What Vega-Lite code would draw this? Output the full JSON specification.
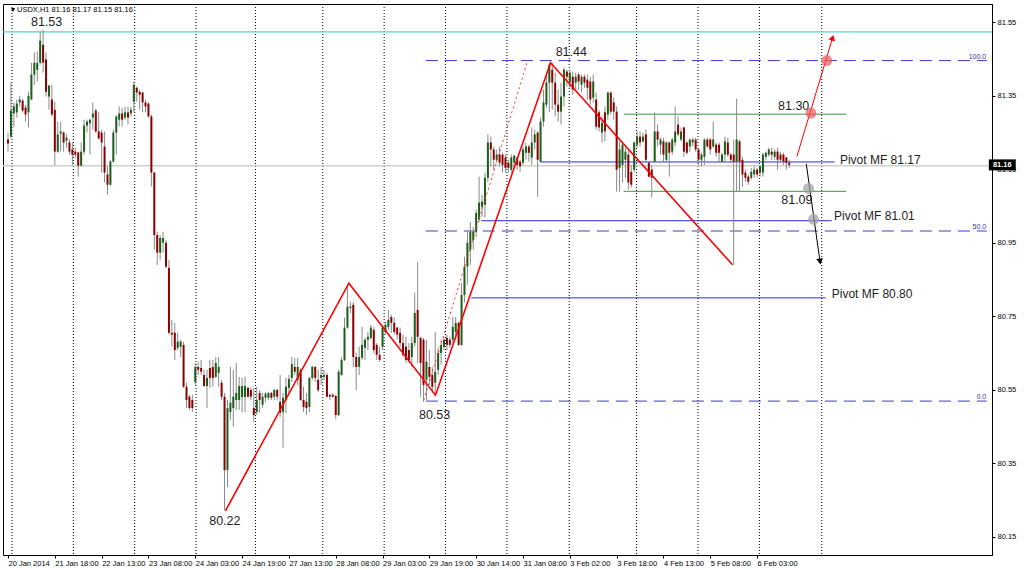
{
"$schema": "https://vega.github.io/schema/vega-lite/v6.json",
"width": 989, "height": 551,
"autosize": {"type": "none"},
"padding": {"left": 3, "top": 4, "right": 32, "bottom": 15},
"background": "#ffffff",
"config": {"view": {"stroke": "#000000", "strokeWidth": 1}},
"datasets": {
"sep": [{"x":1.35},{"x":22.33},{"x":43.3},{"x":64.28},{"x":84.57},{"x":107.58},{"x":128.55},{"x":149.53},{"x":170.5},{"x":191.8},{"x":214.8},{"x":235.8},{"x":256.8},{"x":278.1}],
"bars": [
{"i":0,"o":81.231,"h":81.25,"l":81.198,"c":81.22},
{"i":1,"o":81.239,"h":81.386,"l":81.236,"c":81.31},
{"i":2,"o":81.302,"h":81.332,"l":81.266,"c":81.321},
{"i":3,"o":81.305,"h":81.34,"l":81.291,"c":81.329},
{"i":4,"o":81.332,"h":81.35,"l":81.321,"c":81.34},
{"i":5,"o":81.337,"h":81.342,"l":81.305,"c":81.31},
{"i":6,"o":81.318,"h":81.326,"l":81.28,"c":81.299},
{"i":7,"o":81.305,"h":81.361,"l":81.264,"c":81.35},
{"i":8,"o":81.34,"h":81.44,"l":81.338,"c":81.408},
{"i":9,"o":81.408,"h":81.468,"l":81.38,"c":81.44},
{"i":10,"o":81.421,"h":81.47,"l":81.389,"c":81.44},
{"i":11,"o":81.44,"h":81.525,"l":81.435,"c":81.5},
{"i":12,"o":81.489,"h":81.53,"l":81.413,"c":81.44},
{"i":13,"o":81.449,"h":81.468,"l":81.348,"c":81.361},
{"i":14,"o":81.348,"h":81.38,"l":81.312,"c":81.378},
{"i":15,"o":81.34,"h":81.38,"l":81.294,"c":81.299},
{"i":16,"o":81.312,"h":81.334,"l":81.162,"c":81.198},
{"i":17,"o":81.198,"h":81.28,"l":81.195,"c":81.245},
{"i":18,"o":81.247,"h":81.28,"l":81.198,"c":81.253},
{"i":19,"o":81.25,"h":81.253,"l":81.198,"c":81.223},
{"i":20,"o":81.228,"h":81.245,"l":81.209,"c":81.236},
{"i":21,"o":81.223,"h":81.231,"l":81.19,"c":81.198},
{"i":22,"o":81.204,"h":81.223,"l":81.162,"c":81.19},
{"i":23,"o":81.198,"h":81.209,"l":81.182,"c":81.19},
{"i":24,"o":81.196,"h":81.198,"l":81.13,"c":81.16},
{"i":25,"o":81.16,"h":81.223,"l":81.158,"c":81.198},
{"i":26,"o":81.198,"h":81.285,"l":81.19,"c":81.269},
{"i":27,"o":81.269,"h":81.285,"l":81.25,"c":81.28},
{"i":28,"o":81.275,"h":81.288,"l":81.19,"c":81.285},
{"i":29,"o":81.291,"h":81.332,"l":81.258,"c":81.302},
{"i":30,"o":81.31,"h":81.315,"l":81.25,"c":81.253},
{"i":31,"o":81.253,"h":81.305,"l":81.231,"c":81.234},
{"i":32,"o":81.25,"h":81.258,"l":81.141,"c":81.223},
{"i":33,"o":81.212,"h":81.253,"l":81.114,"c":81.141},
{"i":34,"o":81.136,"h":81.158,"l":81.081,"c":81.108},
{"i":35,"o":81.108,"h":81.176,"l":81.105,"c":81.171},
{"i":36,"o":81.171,"h":81.258,"l":81.168,"c":81.25},
{"i":37,"o":81.25,"h":81.297,"l":81.19,"c":81.294},
{"i":38,"o":81.285,"h":81.321,"l":81.266,"c":81.302},
{"i":39,"o":81.302,"h":81.318,"l":81.266,"c":81.285},
{"i":40,"o":81.291,"h":81.321,"l":81.285,"c":81.305},
{"i":41,"o":81.305,"h":81.321,"l":81.272,"c":81.291},
{"i":42,"o":81.302,"h":81.321,"l":81.294,"c":81.312},
{"i":43,"o":81.334,"h":81.389,"l":81.305,"c":81.38},
{"i":44,"o":81.372,"h":81.375,"l":81.334,"c":81.359},
{"i":45,"o":81.361,"h":81.367,"l":81.312,"c":81.353},
{"i":46,"o":81.359,"h":81.361,"l":81.305,"c":81.332},
{"i":47,"o":81.332,"h":81.34,"l":81.305,"c":81.321},
{"i":48,"o":81.329,"h":81.332,"l":81.291,"c":81.294},
{"i":49,"o":81.294,"h":81.299,"l":81.103,"c":81.141},
{"i":50,"o":81.141,"h":81.143,"l":80.931,"c":80.971},
{"i":51,"o":80.971,"h":80.98,"l":80.89,"c":80.923},
{"i":52,"o":80.923,"h":80.971,"l":80.904,"c":80.963},
{"i":53,"o":80.95,"h":80.98,"l":80.923,"c":80.963},
{"i":54,"o":80.95,"h":80.958,"l":80.88,"c":80.885},
{"i":55,"o":80.882,"h":80.904,"l":80.7,"c":80.705},
{"i":56,"o":80.705,"h":80.74,"l":80.667,"c":80.7},
{"i":57,"o":80.705,"h":80.732,"l":80.631,"c":80.658},
{"i":58,"o":80.664,"h":80.705,"l":80.658,"c":80.681},
{"i":59,"o":80.667,"h":80.686,"l":80.639,"c":80.681},
{"i":60,"o":80.672,"h":80.681,"l":80.555,"c":80.558},
{"i":61,"o":80.558,"h":80.569,"l":80.5,"c":80.522},
{"i":62,"o":80.531,"h":80.536,"l":80.495,"c":80.5},
{"i":63,"o":80.522,"h":80.536,"l":80.489,"c":80.5},
{"i":64,"o":80.571,"h":80.623,"l":80.563,"c":80.612},
{"i":65,"o":80.612,"h":80.626,"l":80.59,"c":80.604},
{"i":66,"o":80.609,"h":80.631,"l":80.59,"c":80.599},
{"i":67,"o":80.59,"h":80.604,"l":80.558,"c":80.56},
{"i":68,"o":80.56,"h":80.604,"l":80.5,"c":80.582},
{"i":69,"o":80.609,"h":80.631,"l":80.555,"c":80.582},
{"i":70,"o":80.612,"h":80.631,"l":80.558,"c":80.582},
{"i":71,"o":80.585,"h":80.639,"l":80.582,"c":80.623},
{"i":72,"o":80.596,"h":80.639,"l":80.558,"c":80.612},
{"i":73,"o":80.569,"h":80.577,"l":80.522,"c":80.531},
{"i":74,"o":80.531,"h":80.541,"l":80.222,"c":80.331},
{"i":75,"o":80.331,"h":80.522,"l":80.285,"c":80.5},
{"i":76,"o":80.489,"h":80.612,"l":80.468,"c":80.514},
{"i":77,"o":80.5,"h":80.604,"l":80.449,"c":80.531},
{"i":78,"o":80.522,"h":80.623,"l":80.495,"c":80.541},
{"i":79,"o":80.522,"h":80.585,"l":80.495,"c":80.56},
{"i":80,"o":80.53,"h":80.582,"l":80.489,"c":80.56},
{"i":81,"o":80.53,"h":80.585,"l":80.489,"c":80.56},
{"i":82,"o":80.555,"h":80.558,"l":80.528,"c":80.531},
{"i":83,"o":80.549,"h":80.555,"l":80.522,"c":80.531},
{"i":84,"o":80.5,"h":80.555,"l":80.462,"c":80.481},
{"i":85,"o":80.489,"h":80.558,"l":80.481,"c":80.522},
{"i":86,"o":80.541,"h":80.549,"l":80.487,"c":80.522},
{"i":87,"o":80.509,"h":80.541,"l":80.5,"c":80.531},
{"i":88,"o":80.528,"h":80.544,"l":80.517,"c":80.539},
{"i":89,"o":80.528,"h":80.544,"l":80.522,"c":80.541},
{"i":90,"o":80.541,"h":80.544,"l":80.522,"c":80.528},
{"i":91,"o":80.531,"h":80.552,"l":80.522,"c":80.549},
{"i":92,"o":80.549,"h":80.552,"l":80.522,"c":80.531},
{"i":93,"o":80.517,"h":80.59,"l":80.476,"c":80.487},
{"i":94,"o":80.489,"h":80.541,"l":80.392,"c":80.528},
{"i":95,"o":80.522,"h":80.582,"l":80.487,"c":80.558},
{"i":96,"o":80.555,"h":80.59,"l":80.541,"c":80.579},
{"i":97,"o":80.582,"h":80.639,"l":80.571,"c":80.62},
{"i":98,"o":80.612,"h":80.637,"l":80.59,"c":80.599},
{"i":99,"o":80.577,"h":80.637,"l":80.563,"c":80.612},
{"i":100,"o":80.604,"h":80.609,"l":80.519,"c":80.522},
{"i":101,"o":80.522,"h":80.558,"l":80.489,"c":80.503},
{"i":102,"o":80.517,"h":80.541,"l":80.481,"c":80.5},
{"i":103,"o":80.503,"h":80.585,"l":80.489,"c":80.582},
{"i":104,"o":80.582,"h":80.615,"l":80.577,"c":80.612},
{"i":105,"o":80.612,"h":80.615,"l":80.571,"c":80.582},
{"i":106,"o":80.577,"h":80.604,"l":80.544,"c":80.549},
{"i":107,"o":80.582,"h":80.612,"l":80.563,"c":80.59},
{"i":108,"o":80.585,"h":80.604,"l":80.577,"c":80.59},
{"i":109,"o":80.59,"h":80.596,"l":80.528,"c":80.531},
{"i":110,"o":80.536,"h":80.539,"l":80.522,"c":80.531},
{"i":111,"o":80.536,"h":80.541,"l":80.528,"c":80.531},
{"i":112,"o":80.533,"h":80.536,"l":80.47,"c":80.481},
{"i":113,"o":80.481,"h":80.604,"l":80.478,"c":80.599},
{"i":114,"o":80.59,"h":80.639,"l":80.588,"c":80.631},
{"i":115,"o":80.631,"h":80.746,"l":80.628,"c":80.719},
{"i":116,"o":80.719,"h":80.838,"l":80.716,"c":80.776},
{"i":117,"o":80.776,"h":80.789,"l":80.759,"c":80.773},
{"i":118,"o":80.781,"h":80.789,"l":80.612,"c":80.639},
{"i":119,"o":80.639,"h":80.65,"l":80.549,"c":80.612},
{"i":120,"o":80.612,"h":80.667,"l":80.59,"c":80.639},
{"i":121,"o":80.637,"h":80.721,"l":80.631,"c":80.672},
{"i":122,"o":80.664,"h":80.691,"l":80.631,"c":80.686},
{"i":123,"o":80.686,"h":80.707,"l":80.658,"c":80.694},
{"i":124,"o":80.691,"h":80.726,"l":80.686,"c":80.719},
{"i":125,"o":80.713,"h":80.721,"l":80.65,"c":80.658},
{"i":126,"o":80.672,"h":80.677,"l":80.631,"c":80.645},
{"i":127,"o":80.645,"h":80.667,"l":80.626,"c":80.631},
{"i":128,"o":80.667,"h":80.721,"l":80.658,"c":80.719},
{"i":129,"o":80.707,"h":80.735,"l":80.7,"c":80.726},
{"i":130,"o":80.721,"h":80.767,"l":80.713,"c":80.74},
{"i":131,"o":80.748,"h":80.754,"l":80.705,"c":80.732},
{"i":132,"o":80.732,"h":80.746,"l":80.7,"c":80.707},
{"i":133,"o":80.719,"h":80.721,"l":80.686,"c":80.7},
{"i":134,"o":80.705,"h":80.719,"l":80.667,"c":80.677},
{"i":135,"o":80.677,"h":80.7,"l":80.639,"c":80.645},
{"i":136,"o":80.667,"h":80.694,"l":80.623,"c":80.631},
{"i":137,"o":80.658,"h":80.677,"l":80.623,"c":80.631},
{"i":138,"o":80.639,"h":80.694,"l":80.612,"c":80.677},
{"i":139,"o":80.677,"h":80.814,"l":80.667,"c":80.759},
{"i":140,"o":80.767,"h":80.898,"l":80.623,"c":80.694},
{"i":141,"o":80.691,"h":80.694,"l":80.531,"c":80.623},
{"i":142,"o":80.686,"h":80.691,"l":80.517,"c":80.563},
{"i":143,"o":80.577,"h":80.686,"l":80.522,"c":80.626},
{"i":144,"o":80.612,"h":80.658,"l":80.563,"c":80.585},
{"i":145,"o":80.59,"h":80.612,"l":80.541,"c":80.558},
{"i":146,"o":80.569,"h":80.707,"l":80.535,"c":80.599},
{"i":147,"o":80.604,"h":80.664,"l":80.59,"c":80.65},
{"i":148,"o":80.65,"h":80.686,"l":80.618,"c":80.672},
{"i":149,"o":80.667,"h":80.694,"l":80.658,"c":80.686},
{"i":150,"o":80.691,"h":80.7,"l":80.658,"c":80.672},
{"i":151,"o":80.686,"h":80.694,"l":80.664,"c":80.672},
{"i":152,"o":80.686,"h":80.748,"l":80.677,"c":80.721},
{"i":153,"o":80.707,"h":80.748,"l":80.686,"c":80.732},
{"i":154,"o":80.732,"h":80.735,"l":80.669,"c":80.672},
{"i":155,"o":80.672,"h":80.841,"l":80.669,"c":80.808},
{"i":156,"o":80.808,"h":80.912,"l":80.787,"c":80.885},
{"i":157,"o":80.885,"h":80.98,"l":80.836,"c":80.95},
{"i":158,"o":80.931,"h":81.007,"l":80.89,"c":80.98},
{"i":159,"o":80.958,"h":80.993,"l":80.931,"c":80.98},
{"i":160,"o":80.98,"h":81.04,"l":80.966,"c":81.031},
{"i":161,"o":81.013,"h":81.13,"l":81.007,"c":81.059},
{"i":162,"o":81.048,"h":81.081,"l":81.021,"c":81.062},
{"i":163,"o":81.053,"h":81.141,"l":81.018,"c":81.127},
{"i":164,"o":81.127,"h":81.245,"l":81.116,"c":81.223},
{"i":165,"o":81.223,"h":81.239,"l":81.158,"c":81.204},
{"i":166,"o":81.204,"h":81.212,"l":81.149,"c":81.176},
{"i":167,"o":81.176,"h":81.204,"l":81.168,"c":81.19},
{"i":168,"o":81.19,"h":81.212,"l":81.158,"c":81.168},
{"i":169,"o":81.19,"h":81.195,"l":81.141,"c":81.162},
{"i":170,"o":81.182,"h":81.19,"l":81.141,"c":81.154},
{"i":171,"o":81.168,"h":81.176,"l":81.141,"c":81.154},
{"i":172,"o":81.149,"h":81.19,"l":81.141,"c":81.182},
{"i":173,"o":81.168,"h":81.19,"l":81.154,"c":81.187},
{"i":174,"o":81.182,"h":81.184,"l":81.149,"c":81.162},
{"i":175,"o":81.171,"h":81.176,"l":81.143,"c":81.158},
{"i":176,"o":81.168,"h":81.212,"l":81.162,"c":81.204},
{"i":177,"o":81.195,"h":81.223,"l":81.176,"c":81.212},
{"i":178,"o":81.212,"h":81.217,"l":81.171,"c":81.195},
{"i":179,"o":81.182,"h":81.264,"l":81.162,"c":81.223},
{"i":180,"o":81.223,"h":81.258,"l":81.204,"c":81.245},
{"i":181,"o":81.25,"h":81.253,"l":81.075,"c":81.176},
{"i":182,"o":81.171,"h":81.291,"l":81.168,"c":81.28},
{"i":183,"o":81.28,"h":81.367,"l":81.266,"c":81.332},
{"i":184,"o":81.326,"h":81.413,"l":81.318,"c":81.386},
{"i":185,"o":81.386,"h":81.44,"l":81.305,"c":81.435},
{"i":186,"o":81.421,"h":81.44,"l":81.312,"c":81.386},
{"i":187,"o":81.386,"h":81.413,"l":81.294,"c":81.326},
{"i":188,"o":81.326,"h":81.367,"l":81.28,"c":81.307},
{"i":189,"o":81.307,"h":81.386,"l":81.272,"c":81.348},
{"i":190,"o":81.348,"h":81.427,"l":81.321,"c":81.421},
{"i":191,"o":81.416,"h":81.421,"l":81.375,"c":81.402},
{"i":192,"o":81.386,"h":81.421,"l":81.367,"c":81.413},
{"i":193,"o":81.402,"h":81.416,"l":81.353,"c":81.367},
{"i":194,"o":81.386,"h":81.413,"l":81.367,"c":81.402},
{"i":195,"o":81.408,"h":81.413,"l":81.367,"c":81.389},
{"i":196,"o":81.38,"h":81.408,"l":81.361,"c":81.402},
{"i":197,"o":81.402,"h":81.408,"l":81.372,"c":81.386},
{"i":198,"o":81.394,"h":81.408,"l":81.34,"c":81.372},
{"i":199,"o":81.389,"h":81.402,"l":81.326,"c":81.34},
{"i":200,"o":81.345,"h":81.408,"l":81.332,"c":81.389},
{"i":201,"o":81.34,"h":81.359,"l":81.258,"c":81.266},
{"i":202,"o":81.305,"h":81.312,"l":81.253,"c":81.264},
{"i":203,"o":81.25,"h":81.294,"l":81.223,"c":81.277},
{"i":204,"o":81.305,"h":81.321,"l":81.226,"c":81.253},
{"i":205,"o":81.299,"h":81.361,"l":81.285,"c":81.359},
{"i":206,"o":81.359,"h":81.361,"l":81.299,"c":81.307},
{"i":207,"o":81.332,"h":81.345,"l":81.285,"c":81.307},
{"i":208,"o":81.307,"h":81.321,"l":81.089,"c":81.149},
{"i":209,"o":81.154,"h":81.226,"l":81.089,"c":81.204},
{"i":210,"o":81.162,"h":81.226,"l":81.114,"c":81.217},
{"i":211,"o":81.176,"h":81.209,"l":81.127,"c":81.198},
{"i":212,"o":81.19,"h":81.204,"l":81.094,"c":81.114},
{"i":213,"o":81.143,"h":81.162,"l":81.1,"c":81.108},
{"i":214,"o":81.149,"h":81.226,"l":81.143,"c":81.223},
{"i":215,"o":81.217,"h":81.253,"l":81.209,"c":81.239},
{"i":216,"o":81.239,"h":81.253,"l":81.212,"c":81.223},
{"i":217,"o":81.226,"h":81.25,"l":81.223,"c":81.239},
{"i":218,"o":81.245,"h":81.258,"l":81.168,"c":81.176},
{"i":219,"o":81.168,"h":81.171,"l":81.127,"c":81.13},
{"i":220,"o":81.149,"h":81.162,"l":81.073,"c":81.127},
{"i":221,"o":81.171,"h":81.305,"l":81.168,"c":81.253},
{"i":222,"o":81.253,"h":81.272,"l":81.212,"c":81.231},
{"i":223,"o":81.217,"h":81.236,"l":81.19,"c":81.231},
{"i":224,"o":81.226,"h":81.236,"l":81.171,"c":81.19},
{"i":225,"o":81.176,"h":81.226,"l":81.168,"c":81.223},
{"i":226,"o":81.223,"h":81.226,"l":81.13,"c":81.195},
{"i":227,"o":81.198,"h":81.236,"l":81.19,"c":81.231},
{"i":228,"o":81.223,"h":81.321,"l":81.212,"c":81.253},
{"i":229,"o":81.272,"h":81.294,"l":81.239,"c":81.245},
{"i":230,"o":81.231,"h":81.264,"l":81.226,"c":81.253},
{"i":231,"o":81.264,"h":81.266,"l":81.184,"c":81.198},
{"i":232,"o":81.223,"h":81.226,"l":81.19,"c":81.195},
{"i":233,"o":81.212,"h":81.234,"l":81.198,"c":81.231},
{"i":234,"o":81.223,"h":81.236,"l":81.212,"c":81.231},
{"i":235,"o":81.231,"h":81.236,"l":81.198,"c":81.204},
{"i":236,"o":81.204,"h":81.209,"l":81.162,"c":81.176},
{"i":237,"o":81.176,"h":81.195,"l":81.158,"c":81.19},
{"i":238,"o":81.184,"h":81.234,"l":81.162,"c":81.231},
{"i":239,"o":81.231,"h":81.236,"l":81.209,"c":81.212},
{"i":240,"o":81.231,"h":81.236,"l":81.19,"c":81.204},
{"i":241,"o":81.212,"h":81.28,"l":81.209,"c":81.231},
{"i":242,"o":81.217,"h":81.223,"l":81.184,"c":81.195},
{"i":243,"o":81.217,"h":81.223,"l":81.168,"c":81.195},
{"i":244,"o":81.171,"h":81.195,"l":81.168,"c":81.19},
{"i":245,"o":81.19,"h":81.239,"l":81.168,"c":81.226},
{"i":246,"o":81.223,"h":81.236,"l":81.184,"c":81.19},
{"i":247,"o":81.19,"h":81.195,"l":81.168,"c":81.176},
{"i":248,"o":81.19,"h":81.231,"l":80.89,"c":81.171},
{"i":249,"o":81.171,"h":81.342,"l":81.089,"c":81.231},
{"i":250,"o":81.226,"h":81.231,"l":81.089,"c":81.171},
{"i":251,"o":81.176,"h":81.184,"l":81.103,"c":81.136},
{"i":252,"o":81.141,"h":81.149,"l":81.116,"c":81.127},
{"i":253,"o":81.13,"h":81.136,"l":81.108,"c":81.116},
{"i":254,"o":81.127,"h":81.154,"l":81.122,"c":81.143},
{"i":255,"o":81.136,"h":81.158,"l":81.127,"c":81.149},
{"i":256,"o":81.149,"h":81.154,"l":81.127,"c":81.136},
{"i":257,"o":81.141,"h":81.162,"l":81.13,"c":81.158},
{"i":258,"o":81.141,"h":81.195,"l":81.13,"c":81.19},
{"i":259,"o":81.184,"h":81.198,"l":81.176,"c":81.195},
{"i":260,"o":81.19,"h":81.209,"l":81.184,"c":81.204},
{"i":261,"o":81.198,"h":81.209,"l":81.176,"c":81.19},
{"i":262,"o":81.184,"h":81.204,"l":81.176,"c":81.198},
{"i":263,"o":81.198,"h":81.209,"l":81.149,"c":81.176},
{"i":264,"o":81.19,"h":81.198,"l":81.171,"c":81.176},
{"i":265,"o":81.19,"h":81.195,"l":81.162,"c":81.171},
{"i":266,"o":81.182,"h":81.184,"l":81.149,"c":81.168},
{"i":267,"o":81.168,"h":81.176,"l":81.154,"c":81.162}
],
"fibo": [{"x":142.8,"x2":334.5,"p":81.446},{"x":142.8,"x2":334.5,"p":80.982},{"x":142.8,"x2":334.5,"p":80.519}],
"fibolab": [{"x":334.3,"p":81.456,"t":"100.0"},{"x":334.3,"p":80.992,"t":"50.0"},{"x":334.3,"p":80.529,"t":"0.0"}],
"piv": [{"x":182.0,"x2":282.5,"p":81.17},{"x":161.7,"x2":281.5,"p":81.01},{"x":158.3,"x2":279.4,"p":80.80}],
"grn": [{"x":210.4,"x2":286.5,"p":81.30},{"x":210.4,"x2":286.5,"p":81.09}],
"zig": [{"k":0,"x":74.3,"p":80.22},{"k":1,"x":116.5,"p":80.84},{"k":2,"x":146.1,"p":80.535},{"k":3,"x":185.4,"p":81.44},{"k":4,"x":247.6,"p":80.89}],
"zigdot": [{"k":0,"x":142.1,"p":80.522},{"k":1,"x":177.5,"p":81.444}],
"redarrow": [{"k":0,"x":269.6,"p":81.185},{"k":1,"x":281.8,"p":81.508}],
"blackarrow": [{"k":0,"x":272.8,"p":81.165},{"k":1,"x":277.5,"p":80.899}],
"redhead": [{"x":281.8,"p":81.508}],
"blackhead": [{"x":277.5,"p":80.899}],
"redcirc": [{"x":274.4,"p":81.303},{"x":279.8,"p":81.446}],
"greycirc": [{"x":273.6,"p":81.098},{"x":275.3,"p":81.014}],
"bigtxt": [{"x":13.2,"p":81.552,"t":"81.53"},{"x":192.5,"p":81.468,"t":"81.44"},{"x":74.1,"p":80.192,"t":"80.22"},{"x":145.8,"p":80.481,"t":"80.53"},{"x":268.5,"p":81.321,"t":"81.30"},{"x":269.6,"p":81.067,"t":"81.09"}],
"pivtxt": [{"x":284.3,"p":81.176,"t":"Pivot MF 81.17"},{"x":282.3,"p":81.022,"t":"Pivot MF 81.01"},{"x":281.5,"p":80.811,"t":"Pivot MF 80.80"}],
"title": [{"x":1.0,"p":81.585,"t":"▾ USDX,H1  81.16 81.17 81.15 81.16"}],
"cur": [{"p":81.16}],
"cyan": [{"p":81.524}],
"curbox": [{"x":335.2,"x2":344.4,"p":81.177,"p2":81.147}],
"curlab": [{"x":339.8,"p":81.162,"t":"81.16"}]
},
"layer": [
{"data": {"name": "sep"}, "mark": {"type": "rule", "color": "#000000", "strokeDash": [1, 2], "strokeWidth": 1},
 "encoding": {"x": {"field": "x", "type": "quantitative", "scale": {"domain": [0, 334.57], "nice": false, "zero": false},
  "axis": {"title": null, "values": [0,16,32,48,64,80,96,112,128,144,160,176,192,208,224,240,256],
   "labelExpr": "['20 Jan 2014','21 Jan 18:00','22 Jan 13:00','23 Jan 08:00','24 Jan 03:00','24 Jan 19:00','27 Jan 13:00','28 Jan 08:00','29 Jan 03:00','29 Jan 19:00','30 Jan 14:00','31 Jan 08:00','3 Feb 02:00','3 Feb 18:00','4 Feb 13:00','5 Feb 08:00','6 Feb 03:00'][round(datum.value/16)]",
   "grid": false, "domain": false, "ticks": true, "tickColor": "#000000", "tickSize": 3, "labelFont": "Liberation Sans", "labelFontSize": 7.5, "labelColor": "#000000", "labelAlign": "left", "labelPadding": 1, "labelFlush": false, "labelOverlap": false, "labelBound": false}}}},
{"data": {"name": "cyan"}, "mark": {"type": "rule", "color": "#4fd3dc", "strokeWidth": 1.2},
 "encoding": {"y": {"field": "p", "type": "quantitative", "scale": {"domain": [80.1, 81.6], "nice": false, "zero": false},
  "axis": {"orient": "right", "title": null, "values": [80.15,80.25,80.35,80.45,80.55,80.65,80.75,80.85,80.95,81.05,81.15,81.25,81.35,81.45,81.55], "format": ".2f", "grid": false, "domain": true, "domainColor": "#000000", "tickColor": "#000000", "tickSize": 3, "labelFont": "Liberation Sans", "labelFontSize": 7.5, "labelColor": "#000000", "labelPadding": 2, "labelOverlap": false, "labelFlush": false, "labelBound": false}}}},
{"data": {"name": "cur"}, "mark": {"type": "rule", "color": "#cfcfcf", "strokeWidth": 1.5},
 "encoding": {"y": {"field": "p", "type": "quantitative"}}},
{"data": {"name": "fibo"}, "mark": {"type": "rule", "color": "#3c3cc8", "strokeDash": [12, 7], "strokeWidth": 1},
 "encoding": {"x": {"field": "x", "type": "quantitative"}, "x2": {"field": "x2"}, "y": {"field": "p", "type": "quantitative"}}},
{"data": {"name": "fibolab"}, "mark": {"type": "text", "align": "right", "baseline": "middle", "font": "Liberation Sans", "fontSize": 7, "color": "#3232c0"},
 "encoding": {"x": {"field": "x", "type": "quantitative"}, "y": {"field": "p", "type": "quantitative"}, "text": {"field": "t"}}},
{"data": {"name": "piv"}, "mark": {"type": "rule", "color": "#2b2bdc", "strokeWidth": 1},
 "encoding": {"x": {"field": "x", "type": "quantitative"}, "x2": {"field": "x2"}, "y": {"field": "p", "type": "quantitative"}}},
{"data": {"name": "grn"}, "mark": {"type": "rule", "color": "#3f963f", "strokeWidth": 1},
 "encoding": {"x": {"field": "x", "type": "quantitative"}, "x2": {"field": "x2"}, "y": {"field": "p", "type": "quantitative"}}},
{"data": {"name": "bars"}, "mark": {"type": "rule", "color": "#8a8a8a", "strokeWidth": 1},
 "encoding": {"x": {"field": "i", "type": "quantitative"}, "y": {"field": "l", "type": "quantitative"}, "y2": {"field": "h"}}},
{"data": {"name": "bars"}, "mark": {"type": "bar", "width": 2},
 "encoding": {"x": {"field": "i", "type": "quantitative"}, "y": {"field": "o", "type": "quantitative"}, "y2": {"field": "c"},
  "color": {"condition": {"test": "datum.c >= datum.o", "value": "#1b5e1b"}, "value": "#8b0000"}}},
{"data": {"name": "zig"}, "mark": {"type": "line", "color": "#ff0000", "strokeWidth": 1.6},
 "encoding": {"x": {"field": "x", "type": "quantitative"}, "y": {"field": "p", "type": "quantitative"}, "order": {"field": "k"}}},
{"data": {"name": "zigdot"}, "mark": {"type": "line", "color": "#ff3030", "strokeWidth": 1, "strokeDash": [2, 3]},
 "encoding": {"x": {"field": "x", "type": "quantitative"}, "y": {"field": "p", "type": "quantitative"}, "order": {"field": "k"}}},
{"data": {"name": "redarrow"}, "mark": {"type": "line", "color": "#ff0000", "strokeWidth": 1},
 "encoding": {"x": {"field": "x", "type": "quantitative"}, "y": {"field": "p", "type": "quantitative"}, "order": {"field": "k"}}},
{"data": {"name": "blackarrow"}, "mark": {"type": "line", "color": "#000000", "strokeWidth": 1},
 "encoding": {"x": {"field": "x", "type": "quantitative"}, "y": {"field": "p", "type": "quantitative"}, "order": {"field": "k"}}},
{"data": {"name": "redhead"}, "mark": {"type": "point", "shape": "triangle-up", "angle": 17.4, "size": 45, "filled": true, "color": "#ff0000", "opacity": 1},
 "encoding": {"x": {"field": "x", "type": "quantitative"}, "y": {"field": "p", "type": "quantitative"}}},
{"data": {"name": "blackhead"}, "mark": {"type": "point", "shape": "triangle-up", "angle": 171.8, "size": 45, "filled": true, "color": "#000000", "opacity": 1},
 "encoding": {"x": {"field": "x", "type": "quantitative"}, "y": {"field": "p", "type": "quantitative"}}},
{"data": {"name": "redcirc"}, "mark": {"type": "point", "shape": "circle", "size": 120, "filled": true, "color": "#f05a5a", "opacity": 0.7},
 "encoding": {"x": {"field": "x", "type": "quantitative"}, "y": {"field": "p", "type": "quantitative"}}},
{"data": {"name": "greycirc"}, "mark": {"type": "point", "shape": "circle", "size": 120, "filled": true, "color": "#a0a0a0", "opacity": 0.7},
 "encoding": {"x": {"field": "x", "type": "quantitative"}, "y": {"field": "p", "type": "quantitative"}}},
{"data": {"name": "bigtxt"}, "mark": {"type": "text", "align": "center", "baseline": "middle", "font": "Liberation Sans", "fontSize": 12.5, "color": "#1e1e1e"},
 "encoding": {"x": {"field": "x", "type": "quantitative"}, "y": {"field": "p", "type": "quantitative"}, "text": {"field": "t"}}},
{"data": {"name": "pivtxt"}, "mark": {"type": "text", "align": "left", "baseline": "middle", "font": "Liberation Sans", "fontSize": 12, "color": "#1e1e1e"},
 "encoding": {"x": {"field": "x", "type": "quantitative"}, "y": {"field": "p", "type": "quantitative"}, "text": {"field": "t"}}},
{"data": {"name": "title"}, "mark": {"type": "text", "align": "left", "baseline": "middle", "font": "Liberation Sans", "fontSize": 7.5, "color": "#000000"},
 "encoding": {"x": {"field": "x", "type": "quantitative"}, "y": {"field": "p", "type": "quantitative"}, "text": {"field": "t"}}},
{"data": {"name": "curbox"}, "mark": {"type": "rect", "color": "#000000"},
 "encoding": {"x": {"field": "x", "type": "quantitative"}, "x2": {"field": "x2"}, "y": {"field": "p", "type": "quantitative"}, "y2": {"field": "p2"}}},
{"data": {"name": "curlab"}, "mark": {"type": "text", "align": "center", "baseline": "middle", "font": "Liberation Sans", "fontSize": 7.5, "color": "#ffffff", "fontWeight": "bold"},
 "encoding": {"x": {"field": "x", "type": "quantitative"}, "y": {"field": "p", "type": "quantitative"}, "text": {"field": "t"}}}
]
}
